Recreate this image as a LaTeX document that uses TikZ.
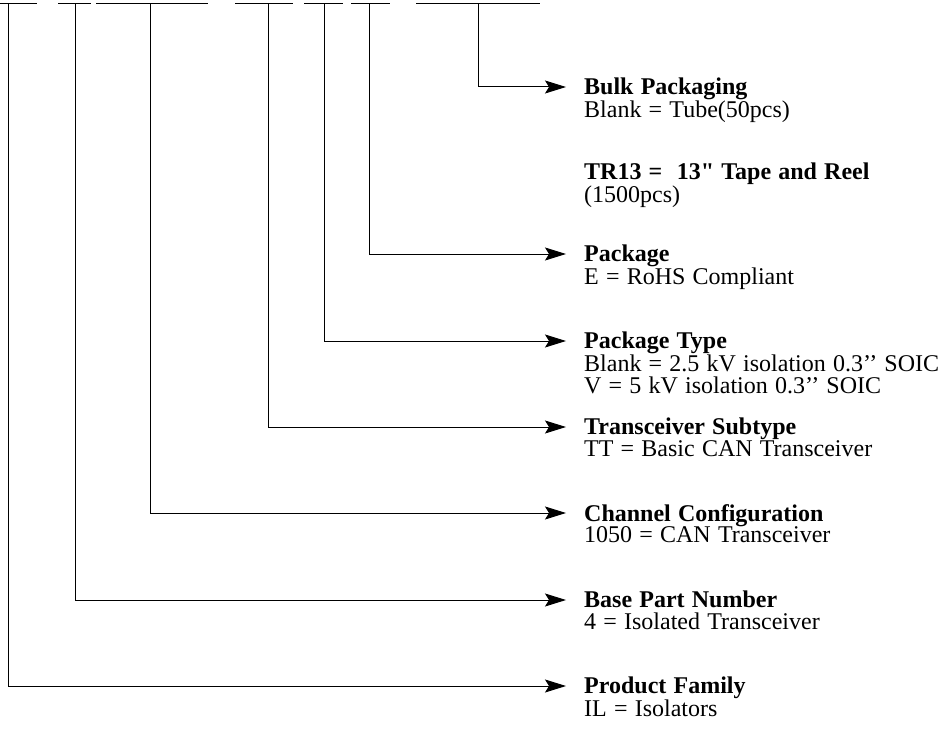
\documentclass[tikz,border=0pt]{standalone}
\usepackage{fontspec}
\setmainfont{Liberation Serif}
\newfontface\quotebold{Liberation Serif Bold}
\newcommand\descfont{\fontsize{24}{21.7}\selectfont\spaceskip=0.3em\relax}
\usetikzlibrary{positioning}
\usetikzlibrary{arrows.meta}

\begin{document}
\begin{tikzpicture}[x=1pt,y=-1pt,
  bar/.style={line width=1pt},
  lead/.style={line width=1pt,-{Stealth[length=21pt,width=13pt,inset=4pt]}},
  desc/.style={anchor=north west,align=left,inner sep=0pt,font=\descfont}]
\useasboundingbox (0,0) rectangle (944,751);
% fields of the part number
\draw [bar] (0,3.5)--(37,3.5);
\draw [bar] (58,3.5)--(91,3.5);
\draw [bar] (96,3.5)--(208,3.5);
\draw [bar] (235,3.5)--(293,3.5);
\draw [bar] (304,3.5)--(343,3.5);
\draw [bar] (351,3.5)--(390,3.5);
\draw [bar] (416,3.5)--(540,3.5);
\coordinate (fam) at (8,3.5);
\coordinate (base) at (75,3.5);
\coordinate (chan) at (150,3.5);
\coordinate (sub) at (268,3.5);
\coordinate (ptype) at (324,3.5);
\coordinate (pkg) at (369,3.5);
\coordinate (bulk) at (478,3.5);
% arrow tips
\coordinate (bulktip) at (566,87);
\coordinate (pkgtip) at (566,254);
\coordinate (ptypetip) at (566,341);
\coordinate (subtip) at (566,427);
\coordinate (chantip) at (566,513);
\coordinate (basetip) at (566,600);
\coordinate (famtip) at (566,686);
% descriptions
\node [desc] (bulktxt) at ([shift={(18,-9)}]bulktip) {\textbf{Bulk Packaging}\\Blank = Tube(50pcs)};
\node [desc] (reeltxt) at ([shift={(18,76)}]bulktip) {\textbf{TR13 = \ 13{\quotebold"} Tape and Reel}\\(1500pcs)};
\node [desc] (pkgtxt) at ([shift={(18,-9)}]pkgtip) {\textbf{Package}\\E = RoHS Compliant};
\node [desc] (ptypetxt) at ([shift={(18,-9)}]ptypetip) {\textbf{Package Type}\\Blank = 2.5 kV isolation 0.3’’ SOIC\\V = 5 kV isolation 0.3’’ SOIC};
\node [desc] (subtxt) at ([shift={(18,-9)}]subtip) {\textbf{Transceiver Subtype}\\TT = Basic CAN Transceiver};
\node [desc] (chantxt) at ([shift={(18,-9)}]chantip) {\textbf{Channel Configuration}\\1050 = CAN Transceiver};
\node [desc] (basetxt) at ([shift={(18,-9)}]basetip) {\textbf{Base Part Number}\\4 = Isolated Transceiver};
\node [desc] (famtxt) at ([shift={(18,-9)}]famtip) {\textbf{Product Family}\\IL = Isolators};
% leaders
\draw [lead] (bulk) |- (bulktip);
\draw [lead] (pkg) |- (pkgtip);
\draw [lead] (ptype) |- (ptypetip);
\draw [lead] (sub) |- (subtip);
\draw [lead] (chan) |- (chantip);
\draw [lead] (base) |- (basetip);
\draw [lead] (fam) |- (famtip);
\end{tikzpicture}
\end{document}
